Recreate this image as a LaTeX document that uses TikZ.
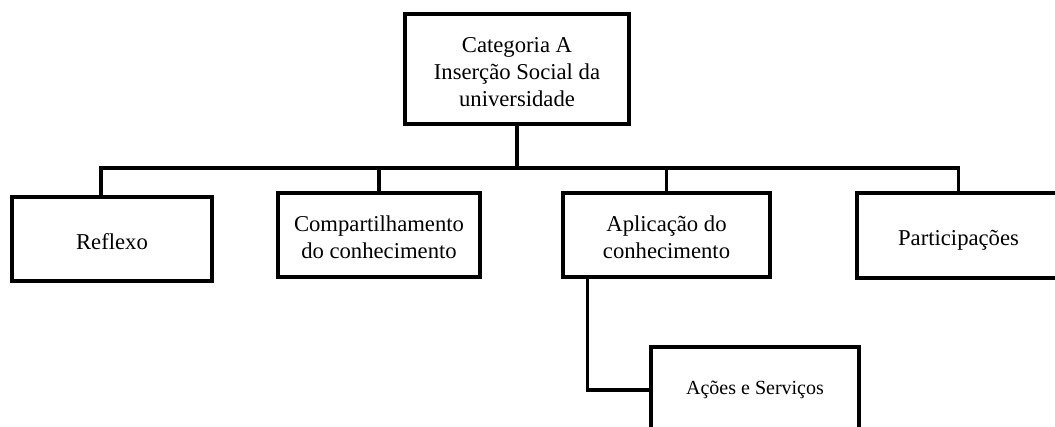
\documentclass[tikz,border=0pt]{standalone}
\usepackage{fontspec}
\setmainfont{Liberation Serif}
\usepackage{tikz}
\usetikzlibrary{positioning, calc}

% text lowered a little inside its box
\newcommand{\boxlines}[1]{\raisebox{-3.5pt}[\height][\depth]{\begin{tabular}{@{}c@{}}#1\end{tabular}}}

\begin{document}
\begin{tikzpicture}[
    x=0.75pt, y=-0.75pt,
    box/.style={rectangle, draw=black, line width=2.6pt, align=center, inner sep=4pt,
        font=\fontsize{17}{20.25}\selectfont},
    smallbox/.style={box, font=\fontsize{15}{18}\selectfont},
    link/.style={line width=2.6pt, line cap=rect},
]

    \clip (0,0) rectangle (1055,426);
    \fill[white] (0,0) rectangle (1055,426);

    % Category node
    \node (cat) [box, minimum width=168pt, minimum height=82.5pt] at (517,69)
        {\boxlines{Categoria A\\Inserção Social da\\universidade}};

    % Sub-categories
    \node (reflexo) [box, minimum width=150pt, minimum height=63pt] at (112,239) {\boxlines{Reflexo}};
    \node (compart) [box, minimum width=151.5pt, minimum height=63pt] at (379,235)
        {\boxlines{Compartilhamento\\do conhecimento}};
    \node (aplic) [box, minimum width=155pt, minimum height=63pt] at (666.5,235)
        {\boxlines{Aplicação do\\conhecimento}};
    \node (partic) [box, minimum width=152pt, minimum height=64pt] at (958.5,235.5)
        {\boxlines{Participações}};

    % Sub-sub-category
    \node (acoes) [smallbox, minimum width=156pt, minimum height=64.5pt] at (755,390)
        {Ações e Serviços};

    % Bus
    \coordinate (busL) at (101,168);

    % Connections
    \draw [link] (cat.south) -- (cat.south |- busL);
    \draw [link] (reflexo.north -| busL) -- (busL) -- (partic.north |- busL) -- (partic.north);
    \draw [link] (compart.north) -- (compart.north |- busL);
    \draw [link] (aplic.north) -- (aplic.north |- busL);
    \draw [link] ($(aplic.south west)+(26,0)$) |- (acoes.west);

\end{tikzpicture}
\end{document}
